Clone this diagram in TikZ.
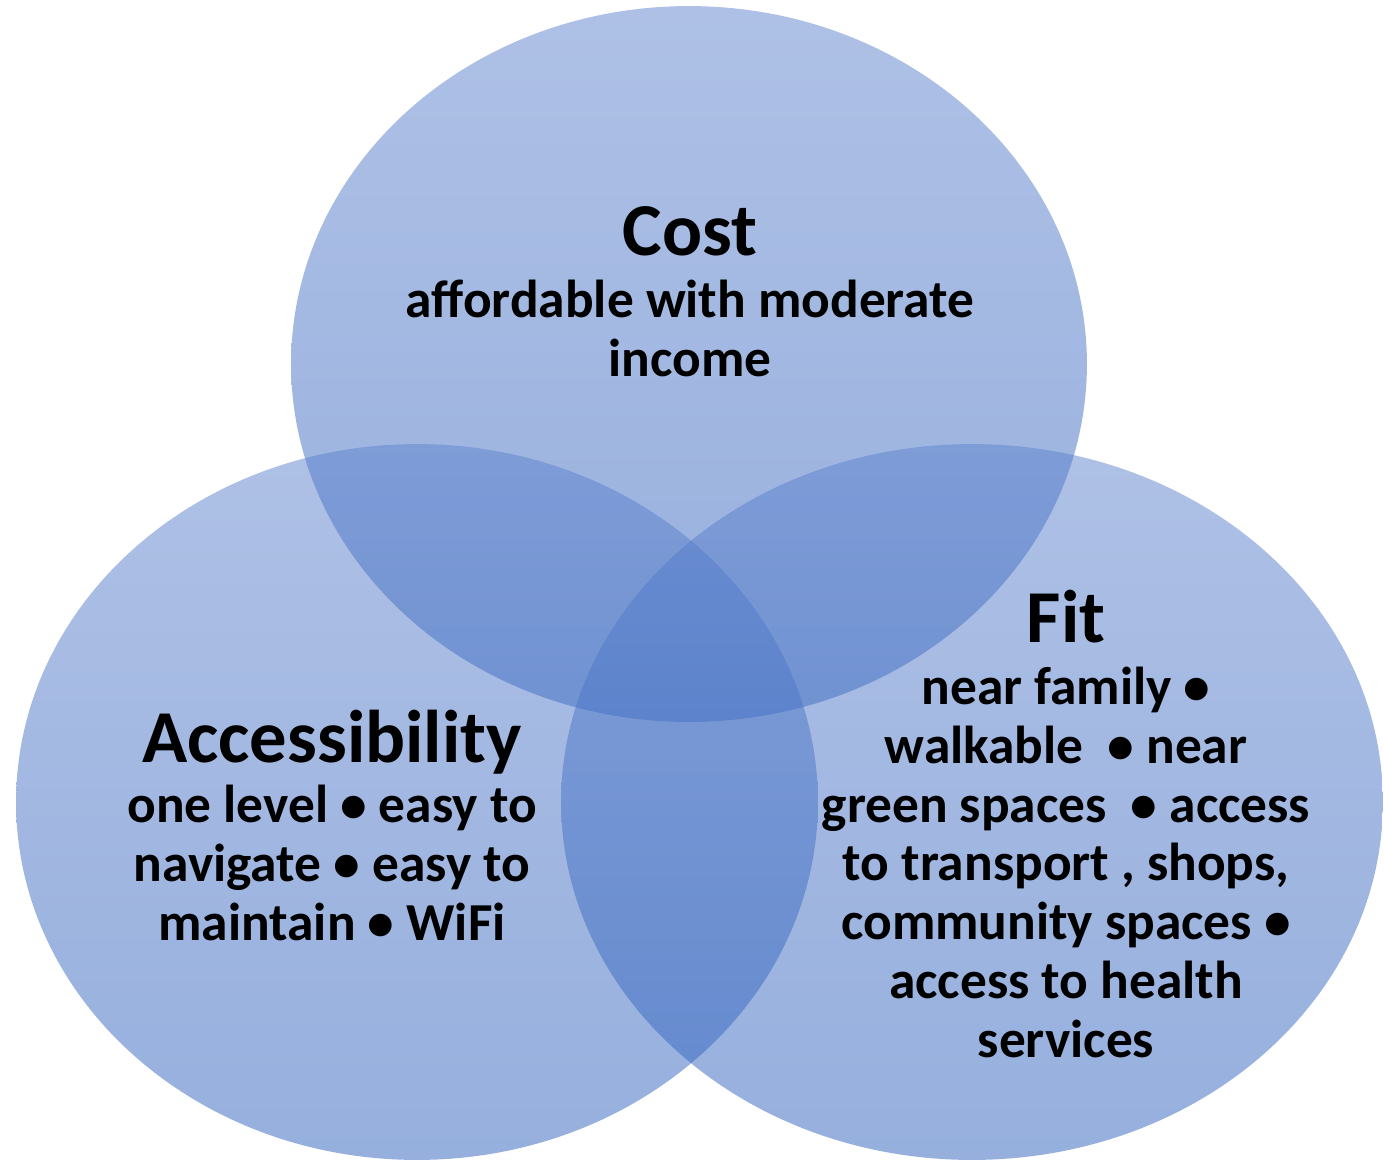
\documentclass[tikz,border=0pt]{standalone}
\usepackage{fontspec}
\setmainfont{Carlito}
\usetikzlibrary{shapes.geometric, positioning}
\definecolor{venntop}{RGB}{94,130,205}
\definecolor{vennbottom}{RGB}{45,96,188}

\tikzset{
  venn/.style={ellipse, draw=none, inner sep=0pt, outer sep=0pt,
    minimum width=16.04cm, minimum height=14.32cm,
    top color=venntop, bottom color=vennbottom, fill opacity=0.5},
  heading/.style={anchor=base, inner sep=0pt, font=\bfseries\fontsize{42.5}{50}\selectfont},
  % base of a body node sits on its last line
  body/.style={anchor=base, inner sep=0pt, align=center,
    font=\bfseries\fontsize{30.4}{33.4}\selectfont}
}

\begin{document}
\begin{tikzpicture}[x=0.02cm,y=-0.02cm]
  \useasboundingbox (0,0) rectangle (1384,1160);
  % three overlapping circles
  \node[venn, minimum width=15.92cm] (cost) at (689,364) {};
  \node[venn] (access) at (417,802) {};
  \node[venn, minimum width=16.44cm] (fit) at (972,802) {};

  % labels
  \node[heading] (costTitle) at (690,255) {Cost};
  \node[body] (costText) at (690,376) {affordable with moderate\\income};

  \node[heading] (accessTitle) at (332,762) {Accessibility};
  \node[body] (accessText) at (332,940)
    {one level • easy to\\navigate • easy to\\maintain • WiFi};

  \node[heading] (fitTitle) at (1066,642) {Fit};
  \node[body] (fitText) at (1066,1057)
    {near family •\\walkable\ \ • near\\green spaces\ \ • access\\to transport , shops,\\community spaces •\\access to health\\services};
\end{tikzpicture}
\end{document}
